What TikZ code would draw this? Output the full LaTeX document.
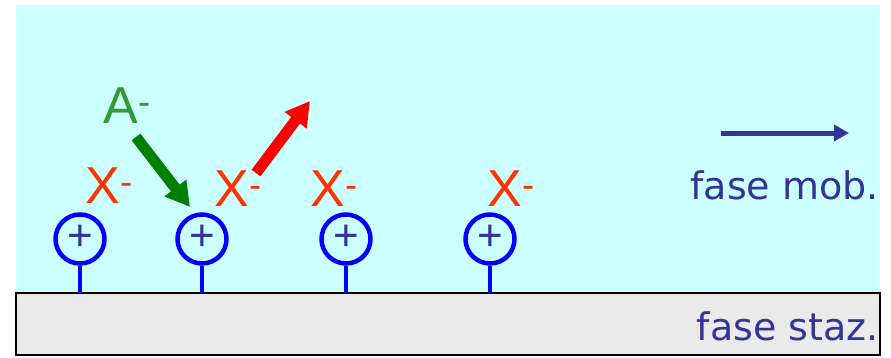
\documentclass[tikz,border=0pt]{standalone}
\usepackage{fontspec}
\setmainfont{Liberation Sans}
\newfontfamily\handfont{DejaVu Sans}
\usetikzlibrary{arrows.meta}
\definecolor{mobcyan}{HTML}{CCFFFF}
\definecolor{stazgrey}{HTML}{EAEAEA}
\definecolor{navy}{HTML}{333399}
\definecolor{ionred}{HTML}{FF3300}
\definecolor{ionA}{HTML}{339933}
\definecolor{arrgreen}{HTML}{008000}
\tikzset{
  site/.style={circle, draw=blue, line width=4.5pt, minimum size=49pt, inner sep=0pt,
    text=navy, font=\fontsize{44}{44}\selectfont},
  stem/.style={draw=blue, line width=4.5pt},
  ion/.style={text=ionred, inner sep=0pt, font=\fontsize{52}{52}\selectfont},
  phase/.style={text=navy, inner sep=0pt, anchor=base east, font=\handfont\fontsize{38}{38}\selectfont},
}
\begin{document}
\begin{tikzpicture}[x=1pt,y=-1pt]
  \useasboundingbox (0,0) rectangle (891,357);
  \fill[mobcyan] (16,5) rectangle (880,293);
  \draw[fill=stazgrey, line width=2pt] (16,293) rectangle (880,355);
  \coordinate (base) at (0,293);
  % fixed sites
  \foreach \name/\x in {s1/80, s2/202, s3/346, s4/490} {
    \node[site] (\name) at (\x,239) {\raisebox{2pt}{+}};
    \draw[stem] (\name.south) -- (\name.south |- base);
  }
  % counter ions
  \node[ion] (x1) at (109,186) {X\textsuperscript{-}};
  \node[ion] (x2) at (238,189) {X\textsuperscript{-}};
  \node[ion] (x3) at (334,189) {X\textsuperscript{-}};
  \node[ion] (x4) at (511,189) {X\textsuperscript{-}};
  \node[ion, text=ionA] (a) at (127,106) {A\textsuperscript{-}};
  % exchange
  \coordinate (gin) at (136,137);
  \coordinate (gout) at (190,207);
  \draw[arrgreen, line width=11pt, -{Triangle[width=26pt,length=24pt]}] (gin) -- (gout);
  \coordinate (rin) at (256,173);
  \coordinate (rout) at (310,101);
  \draw[red, line width=11pt, -{Triangle[width=26pt,length=24pt]}] (rin) -- (rout);
  % phases
  \coordinate (fin) at (721,133);
  \coordinate (fout) at (849,133);
  \draw[navy, line width=5pt, -{Triangle[width=16pt,length=15pt]}] (fin) -- (fout);
  \node[phase] (mob) at (879,199) {fase mob.};
  \node[phase] (staz) at (879,340) {fase staz.};
\end{tikzpicture}
\end{document}
